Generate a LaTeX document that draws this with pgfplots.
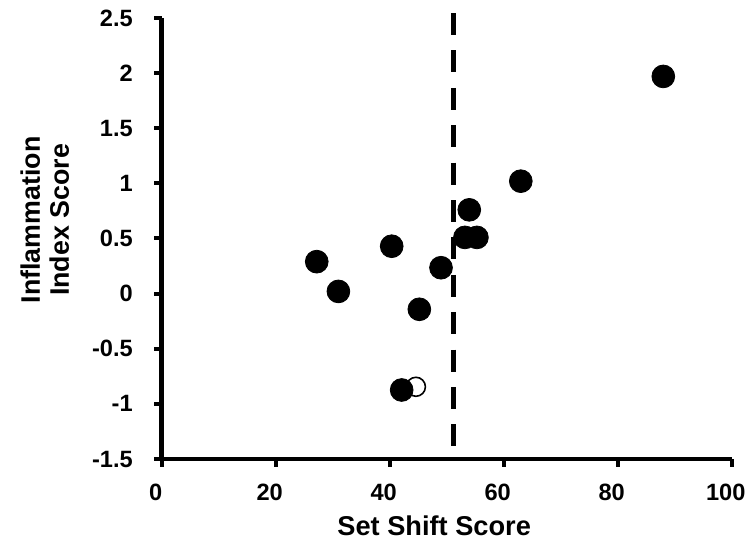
\documentclass[border=0pt]{standalone}
\usepackage{fontspec}
\setmainfont{Liberation Sans}
\usepackage{pgfplots}
\pgfplotsset{compat=1.18}
\begin{document}
\begin{tikzpicture}
\useasboundingbox (-80.85pt,-45.5pt) rectangle (292.65pt,229.5pt);
\begin{axis}[
  at={(0pt,0pt)}, anchor=south west,
  width=285pt, height=220.5pt, scale only axis,
  xmin=0, xmax=100, ymin=-1.5, ymax=2.5,
  axis lines*=left,
  axis line style={line width=2.4pt, black},
  xtick={0,20,40,60,80,100},
  ytick={-1.5,-1,-0.5,0,0.5,1,1.5,2,2.5},
  tick align=outside,
  major tick length=3.8pt,
  tick style={line width=2pt, black},
  /pgf/number format/assume math mode=true,
  ticklabel style={font=\bfseries\fontsize{11.8}{13}\selectfont},
  xticklabel style={anchor=north, inner sep=0pt, yshift=-8.5pt, xshift=-3pt},
  yticklabel style={anchor=east, inner sep=0pt, xshift=-10.5pt},
  clip=false,
]
\addplot[line width=2.6pt, black, dash pattern=on 11pt off 7.7pt] coordinates {(51.2,2.545) (51.2,-1.44)};
\addplot[only marks, mark=*, mark size=4.75pt, mark options={fill=white, draw=black, line width=0.8pt}] coordinates {(44.6,-0.845)};
\addplot[only marks, mark=*, mark size=5.7pt, black, mark options={fill=black}] coordinates {
(88.0,1.97)
(63.0,1.02)
(53.96,0.76)
(53.2,0.51)
(55.3,0.51)
(40.35,0.43)
(49.0,0.235)
(45.2,-0.142)
(42.1,-0.874)
(27.2,0.29)
(31.0,0.02)
};
\node[rotate=90, align=center, font=\bfseries\fontsize{13.4}{14.5}\selectfont] at (axis description cs:-0.205,0.542) {Inflammation\\Index Score};
\node[font=\bfseries\fontsize{13.6}{15}\selectfont] at (axis description cs:0.478,-0.152) {Set Shift Score};
\end{axis}
\end{tikzpicture}
\end{document}
